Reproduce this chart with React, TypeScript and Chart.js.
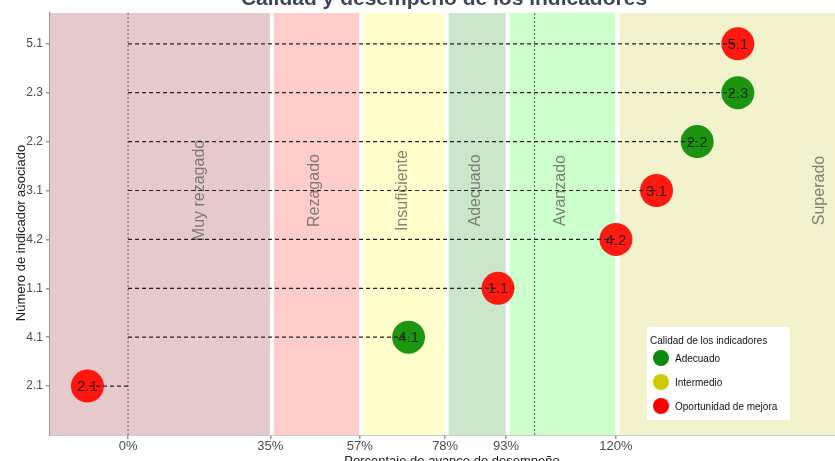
import React, { useEffect, useRef } from "react";
import { Chart, registerables } from "chart.js";

Chart.register(...registerables);

// ---- data ----
const categories = ["2.1", "4.1", "1.1", "4.2", "3.1", "2.2", "2.3", "5.1"]; // bottom -> top
const values = [-10, 69, 91, 120, 130, 140, 150, 150];
const quality = [
  "Oportunidad de mejora",
  "Adecuado",
  "Oportunidad de mejora",
  "Oportunidad de mejora",
  "Oportunidad de mejora",
  "Adecuado",
  "Adecuado",
  "Oportunidad de mejora",
];
const xTickValues = [0, 35, 57, 78, 93, 120];
const bandNames = ["Muy rezagado", "Rezagado", "Insuficiente", "Adecuado", "Avanzado", "Superado"];
const bandStarts = [-100, 35, 57, 78, 93, 120];
const bandEnds = [35, 57, 78, 93, 120, 220];
const bandLabelX = [17.5, 46, 67.5, 85.5, 106.5, 170];
const bandColors = ["#e6cacb", "#ffcccc", "#ffffcc", "#cce6cc", "#ccffcc", "#f2f2cc"];
const legendNames = ["Adecuado", "Intermedio", "Oportunidad de mejora"];
const legendColors = ["#0a8a0a", "#cccc00", "#ff0000"];
const pointColors: Record<string, string> = {
  Adecuado: "rgba(10,140,0,0.92)",
  Intermedio: "rgba(204,204,0,0.92)",
  "Oportunidad de mejora": "rgba(255,8,0,0.92)",
};
const refLines = [0, 100];

const FONT = "'Liberation Sans', Arial, sans-serif";

const backgroundPlugin = {
  id: "bands",
  beforeDatasetsDraw(chart: any) {
    const { ctx, chartArea: a, scales } = chart;
    const xs = scales.x;
    const ys = scales.y;
    ctx.save();
    ctx.beginPath();
    ctx.rect(a.left, a.top, a.right - a.left, a.bottom - a.top);
    ctx.clip();
    bandNames.forEach((_, i) => {
      const x0 = Math.max(a.left, xs.getPixelForValue(bandStarts[i]));
      const x1 = Math.min(a.right, xs.getPixelForValue(bandEnds[i]));
      ctx.fillStyle = bandColors[i];
      ctx.fillRect(x0, a.top, x1 - x0, a.bottom - a.top);
    });
    ctx.strokeStyle = "#ffffff";
    ctx.lineWidth = 4;
    bandStarts.slice(1).forEach((b) => {
      const x = xs.getPixelForValue(b) + 1.5;
      ctx.beginPath();
      ctx.moveTo(x, a.top);
      ctx.lineTo(x, a.bottom);
      ctx.stroke();
    });
    // band labels
    ctx.fillStyle = "rgba(90,90,90,0.75)";
    ctx.font = `16px ${FONT}`;
    ctx.textAlign = "center";
    ctx.textBaseline = "middle";
    bandNames.forEach((n, i) => {
      const x = xs.getPixelForValue(bandLabelX[i]);
      const y = ys.getPixelForValue(5);
      ctx.save();
      ctx.translate(x, y);
      ctx.rotate(-Math.PI / 2);
      ctx.fillText(n, 0, 0);
      ctx.restore();
    });
    // reference dotted lines
    ctx.strokeStyle = "#666666";
    ctx.lineWidth = 1;
    ctx.setLineDash([2, 2]);
    refLines.forEach((v) => {
      const x = xs.getPixelForValue(v);
      ctx.beginPath();
      ctx.moveTo(x, a.top);
      ctx.lineTo(x, a.bottom);
      ctx.stroke();
    });
    ctx.restore();
  },
  afterDatasetsDraw(chart: any) {
    const { ctx, scales } = chart;
    ctx.save();
    ctx.fillStyle = "rgba(20,20,20,0.8)";
    ctx.font = `15px ${FONT}`;
    ctx.textAlign = "center";
    ctx.textBaseline = "middle";
    categories.forEach((c, i) => {
      ctx.fillText(c, scales.x.getPixelForValue(values[i]), scales.y.getPixelForValue(i + 1) + 1);
    });
    ctx.restore();
  },
  afterDraw(chart: any) {
    const { ctx } = chart;
    ctx.save();
    // title
    ctx.fillStyle = "#3c4858";
    ctx.font = `bold 21px ${FONT}`;
    ctx.textAlign = "center";
    ctx.textBaseline = "alphabetic";
    ctx.fillText("Calidad y desempeño de los indicadores", 444, 5);
    // x title
    ctx.fillStyle = "#222222";
    ctx.font = `13px ${FONT}`;
    ctx.fillText("Porcentaje de avance de desempeño", 452, 465);
    // y title
    ctx.save();
    ctx.translate(21, 233);
    ctx.rotate(-Math.PI / 2);
    ctx.textBaseline = "middle";
    ctx.fillText("Número de indicador asociado", 0, 0);
    ctx.restore();
    // legend
    const lx = 647, ly = 327, lw = 143, lh = 93;
    ctx.fillStyle = "#ffffff";
    ctx.fillRect(lx, ly, lw, lh);
    ctx.fillStyle = "#111111";
    ctx.font = `10px ${FONT}`;
    ctx.textAlign = "left";
    ctx.textBaseline = "middle";
    ctx.fillText("Calidad de los indicadores", lx + 3, ly + 14);
    legendNames.forEach((n, i) => {
      const cy = ly + 31 + i * 24;
      ctx.fillStyle = legendColors[i];
      ctx.beginPath();
      ctx.arc(lx + 14, cy, 8, 0, Math.PI * 2);
      ctx.fill();
      ctx.fillStyle = "#111111";
      ctx.fillText(n, lx + 28, cy + 1);
    });
    ctx.restore();
  },
};

export default function App() {
  const ref = useRef<HTMLCanvasElement | null>(null);
  useEffect(() => {
    if (!ref.current) return;
    Chart.defaults.font.family = FONT;
    const lineSets = categories.map((c, i) => ({
      type: "line" as const,
      label: "l" + c,
      data: [
        { x: 0, y: i + 1 },
        { x: values[i], y: i + 1 },
      ],
      borderColor: "#222222",
      borderWidth: 1.2,
      borderDash: [4, 3],
      pointRadius: 0,
      showLine: true,
      order: 1,
    }));
    const chart = new Chart(ref.current, {
      type: "scatter",
      data: {
        datasets: [
          {
            label: "points",
            data: categories.map((c, i) => ({ x: values[i], y: i + 1 })),
            pointRadius: 16.5,
            pointBackgroundColor: quality.map((q) => pointColors[q]),
            pointBorderWidth: 0,
            order: 2,
          } as any,
          ...lineSets,
        ],
      },
      options: {
        animation: false,
        responsive: false,
        devicePixelRatio: 1,
        layout: { autoPadding: false, padding: { top: 13, left: 0, right: 0, bottom: 0 } },
        plugins: { legend: { display: false }, tooltip: { enabled: false }, title: { display: false } },
        scales: {
          x: {
            type: "linear",
            min: -19.2,
            max: 173.9,
            afterBuildTicks: (s: any) => {
              s.ticks = xTickValues.map((v) => ({ value: v }));
            },
            afterFit: (s: any) => {
              s.height = 26;
            },
            ticks: {
              callback: (v: any) => `${v}%`,
              color: "#4d4d4d",
              font: { size: 13, family: FONT },
              padding: 0,
              maxRotation: 0,
              autoSkip: false,
            },
            grid: { drawOnChartArea: false, drawTicks: true, tickLength: 4, color: "#999999", lineWidth: 1.5 },
            border: { display: true, color: "#999999", width: 1.5 },
          },
          y: {
            type: "linear",
            min: 0,
            max: 8.63,
            afterBuildTicks: (s: any) => {
              s.ticks = categories.map((_, i) => ({ value: i + 1 }));
            },
            afterFit: (s: any) => {
              s.width = 50;
            },
            ticks: {
              callback: (v: any) => categories[Math.round(v) - 1] ?? "",
              color: "#4d4d4d",
              font: { size: 12, family: FONT },
              padding: 3,
              autoSkip: false,
            },
            grid: { drawOnChartArea: false, drawTicks: true, tickLength: 4, color: "#999999", lineWidth: 1.5 },
            border: { display: true, color: "#999999", width: 1.5 },
          },
        },
      },
      plugins: [backgroundPlugin],
    } as any);
    return () => chart.destroy();
  }, []);
  return (
    <div style={{ position: "fixed", left: 0, top: 0, width: 835, height: 461 }}>
      <canvas ref={ref} width={835} height={461} style={{ display: "block" }} />
    </div>
  );
}
